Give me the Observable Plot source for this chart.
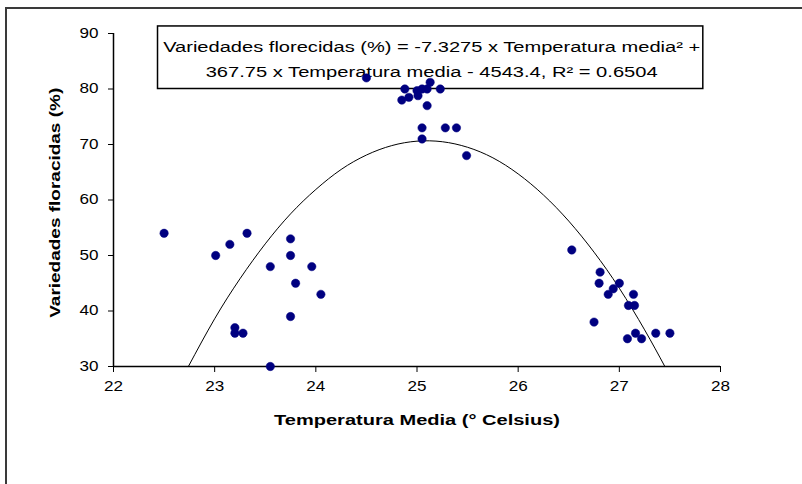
<!DOCTYPE html>
<html>
<head>
<meta charset="utf-8">
<script src="https://cdn.jsdelivr.net/npm/d3@7"></script>
<script src="https://cdn.jsdelivr.net/npm/@observablehq/plot@0.6"></script>
<style>
  html, body { margin: 0; padding: 0; background: #fff; overflow: hidden; }
  #wrap { position: relative; width: 802px; height: 484px; }
  #frame { position: absolute; left: 5px; top: 7px; width: 900px; height: 600px; border: 2px solid #3a3a3a; box-sizing: border-box; }
  #chart { position: absolute; left: 0; top: 0; }
</style>
</head>
<body>
<div id="wrap"><div id="frame"></div><div id="chart"></div></div>
<script>
// Observed points: mean temperature (°C) and flowered varieties (%)
const temperatura = [
  22.50, 23.01, 23.15, 23.32, 23.20, 23.20, 23.28, 23.55, 23.55, 23.75, 23.75, 23.75, 23.80, 23.96, 24.05,
  24.50, 24.85, 24.88, 24.92, 25.00, 25.01, 25.05, 25.10, 25.13, 25.23, 25.10, 25.05, 25.05, 25.28, 25.39, 25.49,
  26.53, 26.75, 26.81, 26.80, 26.89, 26.94, 27.00, 27.14, 27.09, 27.15, 27.08, 27.16, 27.22, 27.36, 27.50
];
const variedades = [
  54, 50, 52, 54, 37, 36, 36, 48, 30, 53, 50, 39, 45, 48, 43,
  82, 78, 80, 78.5, 79.7, 78.8, 80, 80, 81.2, 80, 77, 73, 71, 73, 73, 68,
  51, 38, 47, 45, 43, 44, 45, 43, 41, 41, 35, 36, 35, 36, 36
];
// Trend line
const trendX = [22.74, 23.0, 23.25, 23.5, 23.75, 24.0, 24.25, 24.5, 24.75, 25.0, 25.25, 25.5, 25.75, 26.0, 26.25, 26.5, 26.75, 27.0, 27.25, 27.45];
const trendY = [30.0, 38.6, 45.8, 52.1, 57.5, 61.9, 65.5, 68.1, 69.8, 70.6, 70.5, 69.5, 67.6, 64.7, 60.9, 56.2, 50.6, 44.1, 36.6, 30.0];

const xTicks = [22, 23, 24, 25, 26, 27, 28];
const yTicks = [30, 40, 50, 60, 70, 80, 90];

const eqLine1 = "Variedades florecidas (%) = -7.3275 x Temperatura media² +";
const eqLine2 = "367.75 x Temperatura media - 4543.4, R² = 0.6504";
const xLabel = "Temperatura Media (° Celsius)";
const yLabel = "Variedades floracidas (%)";

const points = temperatura.map((t, i) => ({t, v: variedades[i]}));
const trend = trendX.map((t, i) => ({t, v: trendY[i]}));

// annotation box placement (data units)
const eqBox = [{x1: 22.44, x2: 27.83, y1: 80, y2: 91.27}];
const eqText = [{x: 25.145, y: 87.47, s: eqLine1, id: "eq1"}, {x: 25.145, y: 82.95, s: eqLine2, id: "eq2"}];

const chart = Plot.plot({
  width: 802,
  height: 484,
  marginLeft: 113,
  marginRight: 82,
  marginTop: 33,
  marginBottom: 118,
  style: {fontFamily: "Arial, 'Liberation Sans', sans-serif", fontSize: "14px", color: "#000", background: "transparent", overflow: "visible"},
  x: {domain: [22, 28], ticks: xTicks, tickSize: 6, tickPadding: 9, label: null, tickFormat: d => String(d)},
  y: {domain: [30, 90], ticks: yTicks, tickSize: 5, tickPadding: 10, label: null, tickFormat: d => String(d)},
  marks: [
    Plot.rect(eqBox, {x1: "x1", x2: "x2", y1: "y1", y2: "y2", fill: "#fff", stroke: "#000", strokeWidth: 1.5, clip: false}),
    Plot.text([eqText[0]], {x: "x", y: "y", text: "s", fontSize: 14, fill: "#000", ariaDescription: "eq1"}),
    Plot.text([eqText[1]], {x: "x", y: "y", text: "s", fontSize: 14, fill: "#000", ariaDescription: "eq2"}),
    Plot.ruleX([22], {y1: 30, y2: 90, stroke: "#000", strokeWidth: 1.5}),
    Plot.ruleY([30], {x1: 22, x2: 28, stroke: "#000", strokeWidth: 1.5}),
    Plot.line(trend, {x: "t", y: "v", curve: "natural", stroke: "#000", strokeWidth: 1}),
    Plot.dot(points, {x: "t", y: "v", r: 4.2, fill: "#000080", stroke: "#000080", strokeWidth: 0.5}),
    Plot.text([xLabel], {x: 25.0, y: 20.2, text: d => d, fontSize: 14, fontWeight: "bold", fill: "#000", ariaDescription: "xlab"}),
    Plot.text([yLabel], {x: 21.43, y: 59.5, text: d => d, fontSize: 14, fontWeight: "bold", rotate: -90, fill: "#000", ariaDescription: "ylab"})
  ]
});

document.getElementById("chart").appendChild(chart);

const svg = d3.select(chart);
const fit = (desc, len) => svg.selectAll(`g[aria-description="${desc}"] text`).attr("textLength", len).attr("lengthAdjust", "spacingAndGlyphs");
fit("eq1", 537);
fit("eq2", 452);
fit("xlab", 286);
fit("ylab", 230);
svg.selectAll('g[aria-label="x-axis tick label"] text, g[aria-label="y-axis tick label"] text')
  .attr("textLength", 19).attr("lengthAdjust", "spacingAndGlyphs").style("font-size", "14px");
</script>
</body>
</html>
